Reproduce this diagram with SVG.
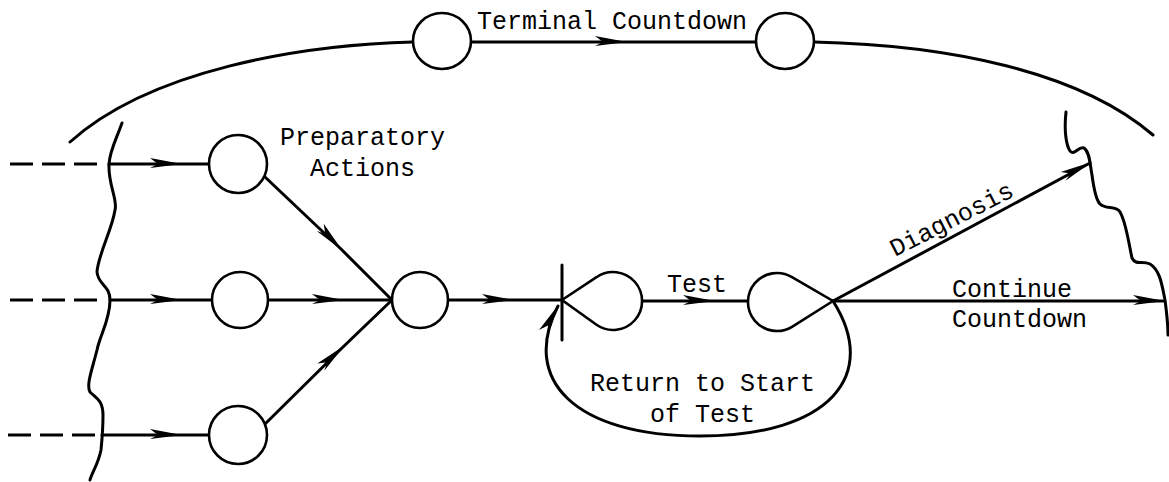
<svg xmlns="http://www.w3.org/2000/svg" width="1169" height="482" viewBox="0 0 1169 482">
<style>
.ln{fill:none;stroke:#000;stroke-width:3;stroke-linecap:round;stroke-linejoin:round}
.nd{fill:#fff;stroke:#000;stroke-width:2.6}
.ds{fill:none;stroke:#000;stroke-width:3;stroke-dasharray:23 9}
.tx{font-family:"Liberation Mono","DejaVu Sans Mono",monospace;font-size:25px;fill:#000}
</style>
<defs>
<marker id="ah" markerUnits="userSpaceOnUse" markerWidth="40" markerHeight="20" refX="0" refY="0" viewBox="-34 -10 40 20" orient="auto" overflow="visible">
<path d="M2,0 L-30,-6 L-22,0 L-30,4 Z" fill="#000"/>
</marker>
</defs>
<rect width="1169" height="482" fill="#fff"/>
<g id="boundaries">
<path class="ln" d="M70,142 C150,70 300,45 413,42"/>
<path class="ln" d="M814,42 C950,45 1080,72 1153,135"/>
<path class="ln" d="M122,123 C116,140 110,150 109,164 C108,185 118,200 115,210 C112,230 98,255 97,272 C98,285 110,285 110,300 C110,320 100,335 97,350 C92,370 86,385 90,392 C96,398 103,400 103,415 C103,430 102,440 101,450 C98,465 92,472 90,480"/>
<path class="ln" d="M1066,112 C1064,130 1066,145 1070,151 C1075,156 1078,146 1084,148 C1090,152 1090,165 1092,175 C1094,190 1096,200 1100,204 C1106,210 1116,205 1120,212 C1126,222 1128,240 1132,258 C1136,266 1142,260 1150,264 C1160,270 1162,285 1165,300 C1167,315 1168,325 1168,335"/>
</g>
<g id="connectors">
<path class="ds" d="M10,164 H100"/>
<path class="ds" d="M10,300 H100"/>
<path class="ds" d="M8,435 H95"/>
<path class="ln" d="M472,42 L625,42 L756,42" marker-mid="url(#ah)"/>
<path class="ln" d="M109,164 L180,164 L209,164" marker-mid="url(#ah)"/>
<path class="ln" d="M110,300 L180,300 L212,300" marker-mid="url(#ah)"/>
<path class="ln" d="M102,435 L180,435 L209,435" marker-mid="url(#ah)"/>
<path class="ln" d="M265,177 L341,249 L392,300" marker-mid="url(#ah)"/>
<path class="ln" d="M268,300 L342,300 L392,300" marker-mid="url(#ah)"/>
<path class="ln" d="M265,424 L343,347 L392,300" marker-mid="url(#ah)"/>
<path class="ln" d="M448,300 L512,300 L562,300" marker-mid="url(#ah)"/>
<path class="ln" d="M642,301 L713,301 L748,301" marker-mid="url(#ah)"/>
<path class="ln" d="M833,301 L1090,163" marker-end="url(#ah)"/>
<path class="ln" d="M833,301 L1163,301" marker-end="url(#ah)"/>
<path class="ln" d="M833,301 C880,375 830,436 700,436 C575,436 520,380 558,306" marker-end="url(#ah)"/>
</g>
<g id="n-top1"><ellipse class="nd" cx="442" cy="41" rx="29" ry="28"/></g>
<g id="n-top2"><ellipse class="nd" cx="785" cy="41" rx="29" ry="28"/></g>
<g id="n-prep1"><circle class="nd" cx="238" cy="164" r="29"/></g>
<g id="n-prep2"><circle class="nd" cx="240" cy="300" r="28"/></g>
<g id="n-prep3"><circle class="nd" cx="238" cy="435" r="29"/></g>
<g id="n-join"><circle class="nd" cx="420" cy="300" r="28"/></g>
<g id="n-teststart">
<path class="nd" d="M562,300 L596.5,277.2 A29,29 0 1 1 596.5,324.8 Z"/>
<line class="ln" x1="562" y1="265" x2="562" y2="340"/>
</g>
<g id="n-testend"><path class="nd" d="M833,301 L792,326.8 A29,29 0 1 1 792,277.2 Z"/></g>
<g id="labels">
<text class="tx" x="477" y="29">Terminal Countdown</text>
<text class="tx" x="280" y="145">Preparatory</text>
<text class="tx" x="310" y="176">Actions</text>
<text class="tx" x="667" y="292">Test</text>
<text class="tx" x="590" y="391">Return to Start</text>
<text class="tx" x="650" y="422">of Test</text>
<text class="tx" x="952" y="297">Continue</text>
<text class="tx" x="952" y="327">Countdown</text>
<text class="tx" transform="translate(895,257) rotate(-27)">Diagnosis</text>
</g>
</svg>
